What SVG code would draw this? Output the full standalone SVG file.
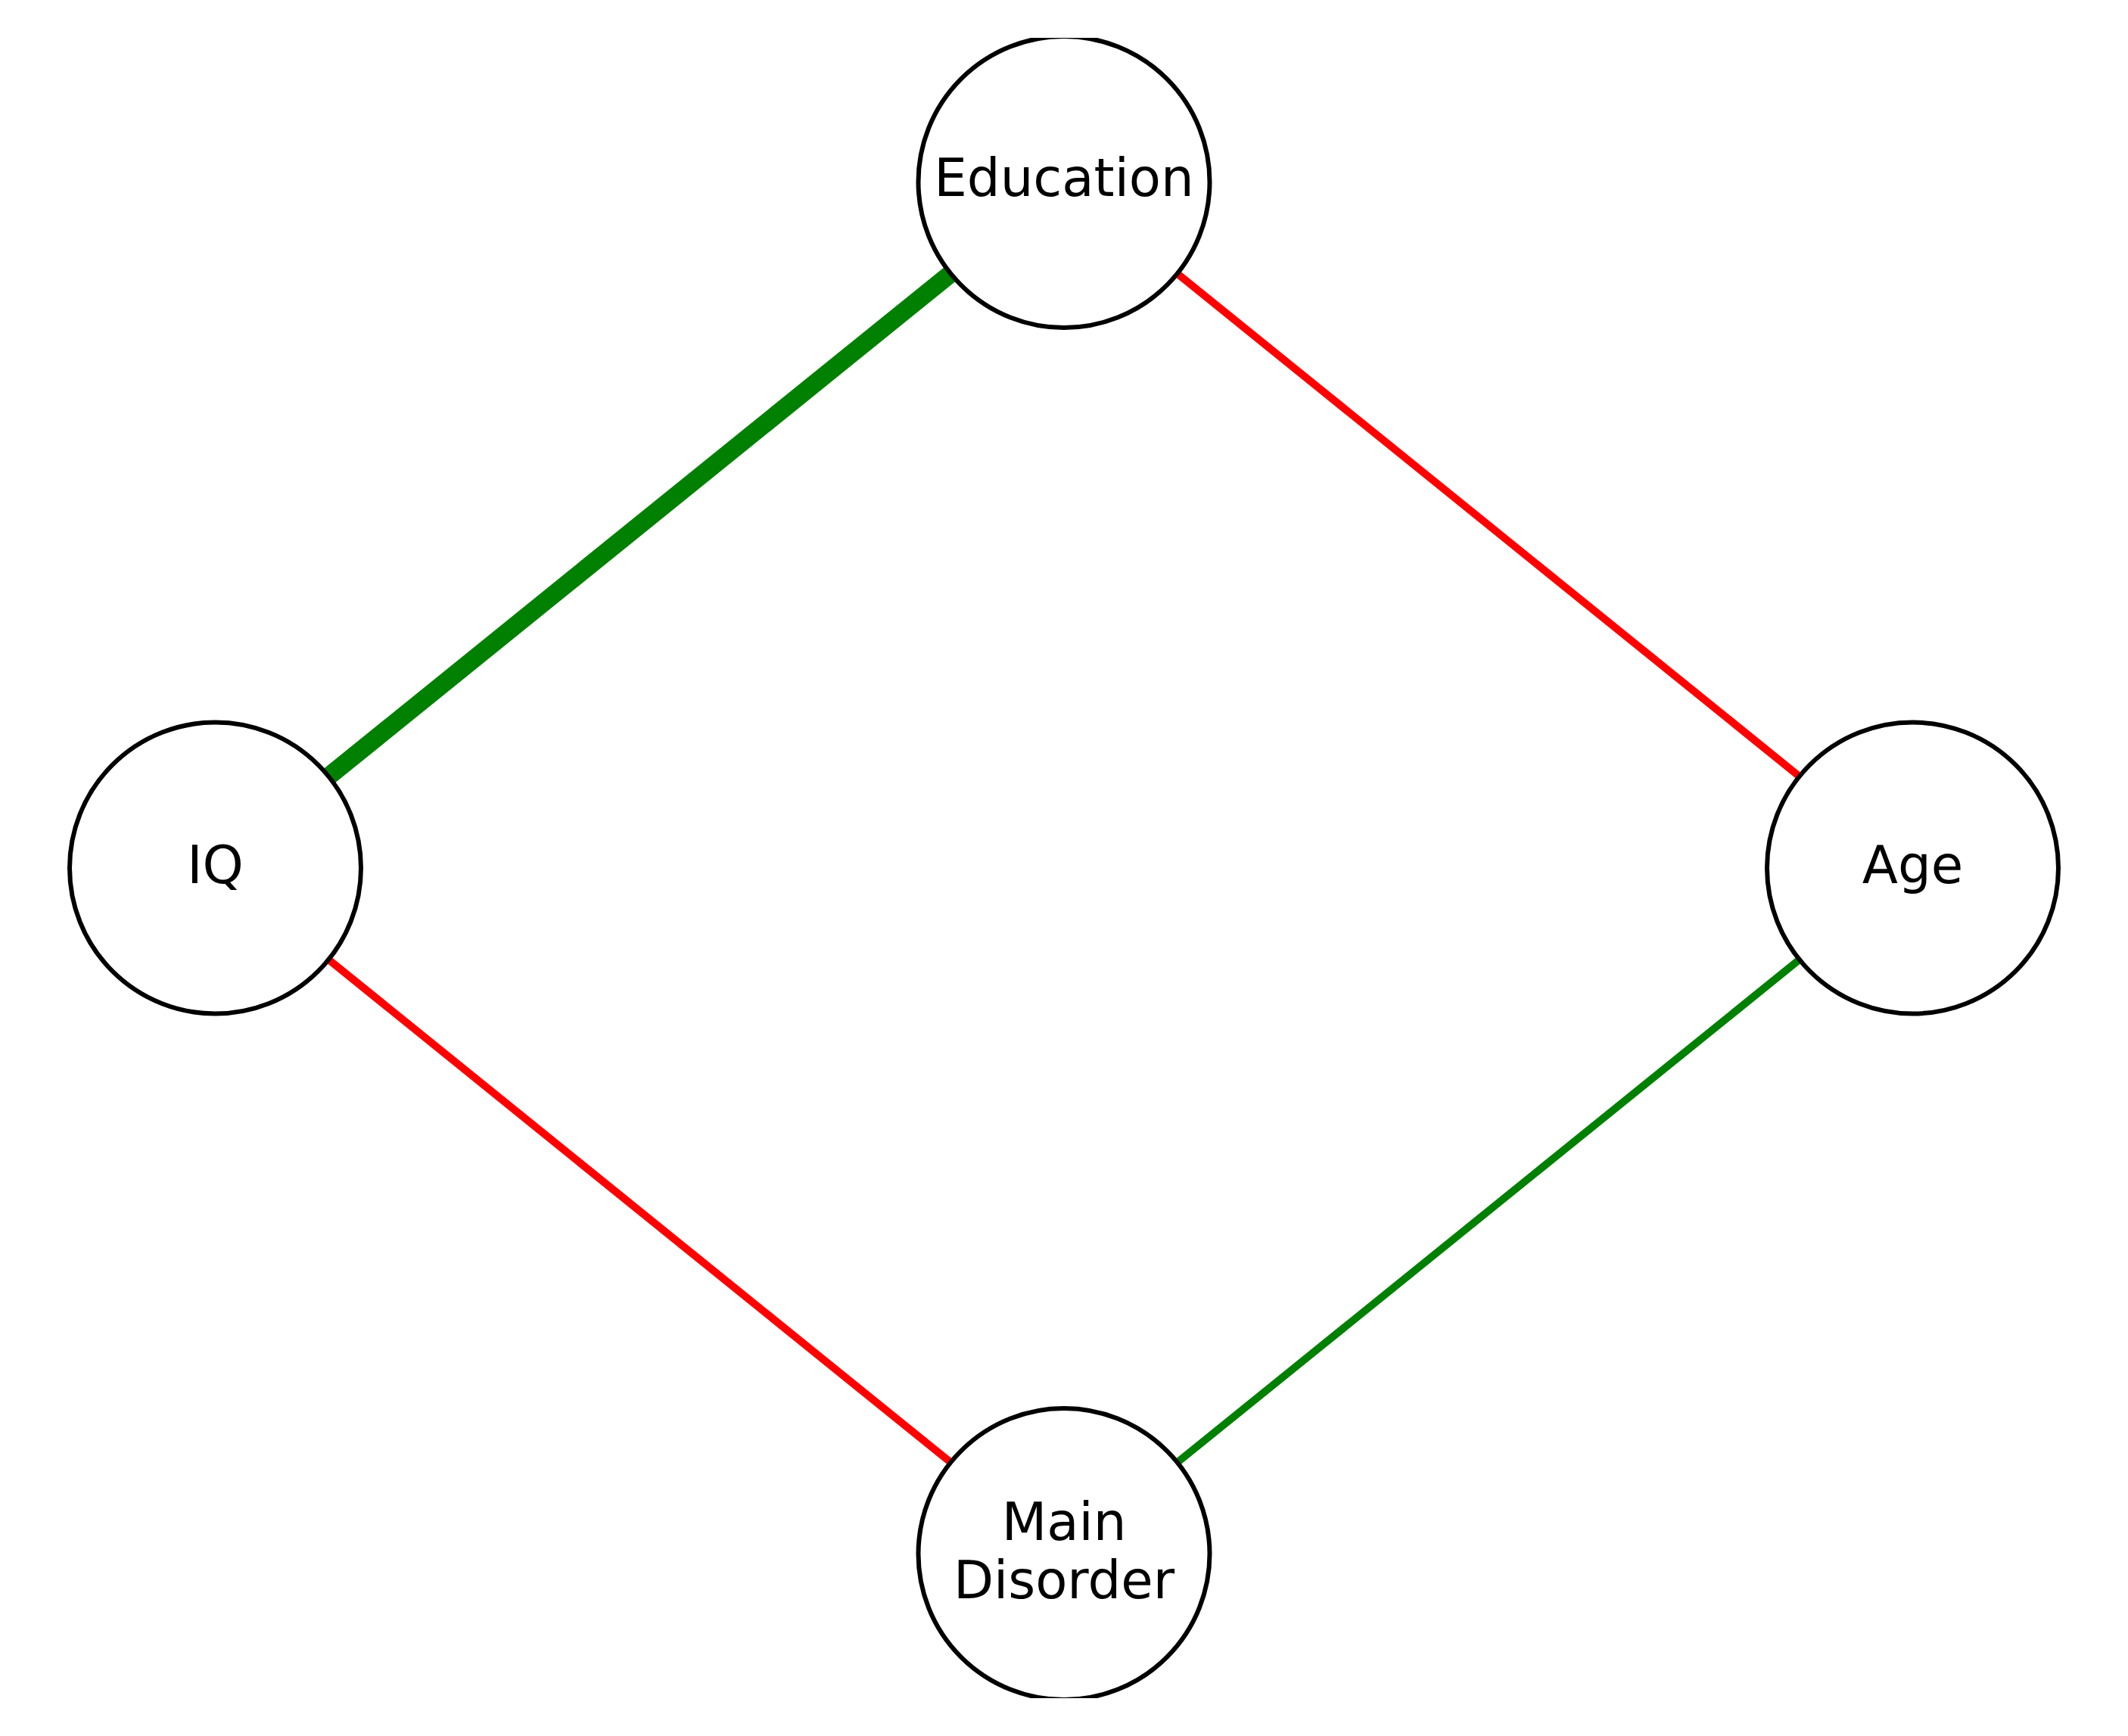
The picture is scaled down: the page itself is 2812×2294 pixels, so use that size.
<svg xmlns="http://www.w3.org/2000/svg" width="2812" height="2294" viewBox="0 0 2812 2294">
<style>
.node{fill:#ffffff;stroke:#000000;stroke-width:6}
.lbl{font-family:"DejaVu Sans",sans-serif;font-size:69px;fill:#000000;text-anchor:middle}
.edge{fill:none;stroke-linecap:butt}
</style>
<defs>
<clipPath id="ax"><rect x="0" y="50" width="2812" height="2194"/></clipPath>
</defs>
<rect width="2812" height="2294" fill="#ffffff"/>
<g clip-path="url(#ax)">
<g id="connectors">
<line class="edge" x1="1406" y1="240.5" x2="284.5" y2="1147" stroke="#008000" stroke-width="24"/>
<line class="edge" x1="1406" y1="240.5" x2="2527.5" y2="1147" stroke="#ff0000" stroke-width="10"/>
<line class="edge" x1="284.5" y1="1147" x2="1406" y2="2053.5" stroke="#ff0000" stroke-width="10"/>
<line class="edge" x1="2527.5" y1="1147" x2="1406" y2="2053.5" stroke="#008000" stroke-width="10"/>
</g>
<g id="node-education">
<circle class="node" cx="1406" cy="240.5" r="192.5"/>
<text class="lbl" x="1406" y="259">Education</text>
</g>
<g id="node-iq">
<circle class="node" cx="284.5" cy="1147" r="192.5"/>
<text class="lbl" x="284.5" y="1167">IQ</text>
</g>
<g id="node-age">
<circle class="node" cx="2527.5" cy="1147" r="192.5"/>
<text class="lbl" x="2527.5" y="1167">Age</text>
</g>
<g id="node-main-disorder">
<circle class="node" cx="1406" cy="2053.5" r="192.5"/>
<text class="lbl" x="1406" y="2035">Main</text>
<text class="lbl" x="1406" y="2112">Disorder</text>
</g>
</g>
</svg>
